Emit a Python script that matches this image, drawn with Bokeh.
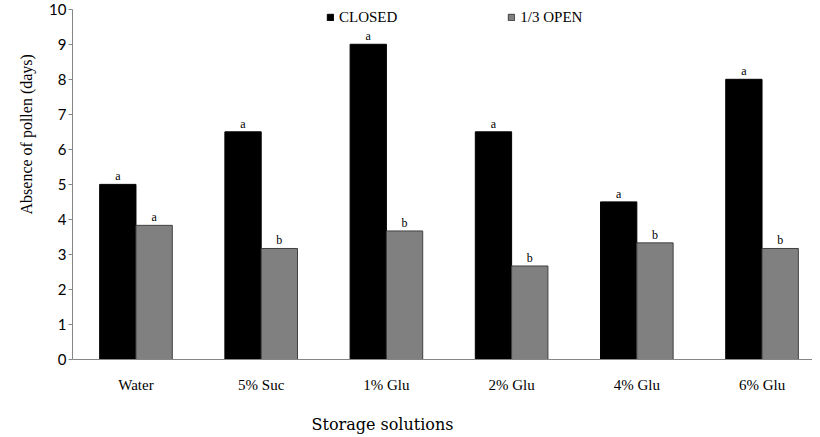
from bokeh.plotting import figure
from bokeh.models import ColumnDataSource, Range1d, FixedTicker, Legend, LegendItem, Title
from bokeh.transform import dodge
from bokeh.core.properties import value
from bokeh.embed import file_html
from bokeh.resources import INLINE

categories = ["Water", "5% Suc", "1% Glu", "2% Glu", "4% Glu", "6% Glu"]
closed = [5.0, 6.5, 9.0, 6.5, 4.5, 8.0]
open_third = [3.83, 3.17, 3.67, 2.67, 3.33, 3.17]
closed_letters = ["a", "a", "a", "a", "a", "a"]
open_letters = ["a", "b", "b", "b", "b", "b"]
y_ticks = [0, 1, 2, 3, 4, 5, 6, 7, 8, 9, 10]

xs = list(range(len(categories)))
src = ColumnDataSource(dict(x=xs, closed=closed, open=open_third,
                            cl=closed_letters, ol=open_letters))

p = figure(frame_width=740, frame_height=359, output_backend="svg",
           toolbar_location=None, x_range=Range1d(-0.507, 5.403),
           y_range=Range1d(0, 10.25))
p.min_border_left = 72
p.min_border_right = 0
p.min_border_top = 0
p.min_border_bottom = 70
p.outline_line_color = None
p.grid.visible = False
p.background_fill_color = "white"

bw = 0.29
r1 = p.vbar(x=dodge("x", -bw / 2, range=p.x_range), top="closed", width=bw,
            source=src, fill_color="black", line_color="black", line_width=1)
r2 = p.vbar(x=dodge("x", bw / 2, range=p.x_range), top="open", width=bw,
            source=src, fill_color="#808080", line_color="#404040", line_width=1)

p.text(x=dodge("x", -bw / 2, range=p.x_range), y="closed", text="cl", source=src,
       text_align="center", text_baseline="alphabetic", y_offset=-8,
       text_font=value("Liberation Serif"), text_font_size="12px", text_color="black")
p.text(x=dodge("x", bw / 2, range=p.x_range), y="open", text="ol", source=src,
       text_align="center", text_baseline="alphabetic", y_offset=-8,
       text_font=value("Liberation Serif"), text_font_size="12px", text_color="black")

# axes
xa = p.xaxis[0]
xa.ticker = FixedTicker(ticks=xs)
xa.major_label_overrides = {i: c for i, c in enumerate(categories)}
xa.major_tick_line_color = None
xa.minor_tick_line_color = None
xa.axis_line_color = "#868686"
xa.major_label_text_font = "Liberation Serif"
xa.major_label_text_font_size = "15px"
xa.major_label_text_color = "black"
xa.major_label_standoff = 11

ya = p.yaxis[0]
ya.ticker = FixedTicker(ticks=y_ticks)
ya.bounds = (0, 10)
ya.minor_tick_line_color = None
ya.major_tick_in = 0
ya.major_tick_out = 4
ya.major_tick_line_color = "#868686"
ya.axis_line_color = "#868686"
ya.major_label_text_font = "Lato"
ya.major_label_text_font_size = "15px"
ya.major_label_text_color = "black"
ya.major_label_standoff = 2

# axis titles as side-panel titles
ytitle = Title(text="Absence of pollen (days)", align="left", offset=145, standoff=24,
               text_font="Liberation Serif", text_font_size="16px",
               text_font_style="normal", text_color="black")
p.add_layout(ytitle, "left")
xtitle = Title(text="Storage solutions", align="left", offset=239, standoff=34,
               text_font="DejaVu Serif", text_font_size="16px",
               text_font_style="normal", text_color="black")
p.add_layout(xtitle, "below")

legend = Legend(items=[LegendItem(label="CLOSED", renderers=[r1]),
                       LegendItem(label="1/3 OPEN", renderers=[r2])],
                orientation="horizontal", location=(254, 333))
legend.glyph_width = 8
legend.glyph_height = 8
legend.label_standoff = 5
legend.spacing = 110
legend.padding = 0
legend.margin = 0
legend.border_line_color = None
legend.background_fill_alpha = 0
legend.label_text_font = "Liberation Serif"
legend.label_text_font_size = "15px"
legend.label_text_color = "black"
legend.label_height = 18
p.add_layout(legend, "center")

open("out.html", "w").write(file_html(p, INLINE))
